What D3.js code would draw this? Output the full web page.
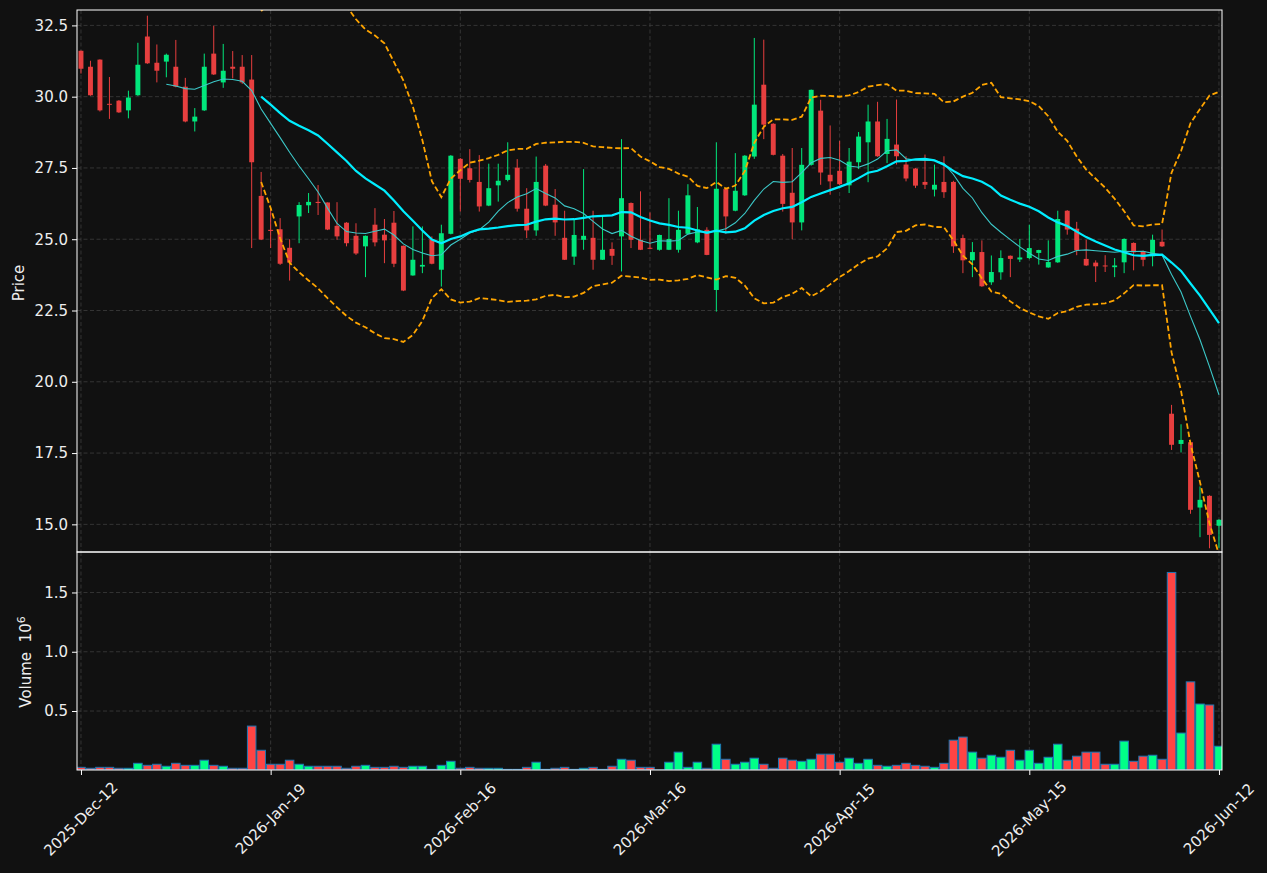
<!DOCTYPE html>
<html lang="en">
<head>
<meta charset="UTF-8">
<title>Candlestick with Volume</title>
<script src="https://d3js.org/d3.v7.min.js"></script>
<style>
  html, body { margin: 0; padding: 0; background: #111111; }
  svg { display: block; }
  text { font-family: "DejaVu Sans", sans-serif; fill: #eeeeee; }
</style>
</head>
<body>
<svg id="chart" width="1267" height="873"></svg>
<script>
// ---- data (prices, volume in millions) ----
const opens = [31.61,31.05,31.30,29.75,29.86,29.52,30.05,32.11,31.19,31.23,
  31.05,30.35,29.13,29.52,31.51,30.50,31.05,31.05,30.60,26.52,
  25.33,25.35,24.70,25.80,26.19,26.31,26.29,25.47,25.58,25.12,
  24.75,25.51,25.16,25.58,24.77,23.73,24.04,25.00,23.93,25.19,
  27.82,27.49,27.01,26.18,26.89,27.08,27.51,26.07,25.31,27.58,
  26.21,25.05,24.39,24.98,25.05,24.28,24.66,25.10,26.27,24.98,
  24.70,24.63,24.63,24.63,25.19,24.89,25.33,23.22,26.76,26.00,
  26.54,27.90,30.42,29.05,27.93,26.63,25.59,27.61,29.51,27.26,
  27.40,26.89,27.70,28.40,29.13,27.99,28.32,27.62,27.48,27.01,
  26.74,27.01,27.01,25.04,24.26,24.55,23.49,23.84,24.42,24.29,
  24.34,24.52,24.01,24.19,26.00,25.37,24.31,24.18,24.08,24.02,
  24.19,24.87,24.58,24.40,24.91,18.88,17.82,17.88,15.59,16.00,
  14.95];
const highs = [31.62,31.26,31.31,30.69,29.88,30.21,31.89,32.84,31.83,31.51,
  31.99,30.66,29.60,31.51,32.49,31.85,31.60,31.46,31.46,27.36,
  26.09,25.74,25.00,26.30,26.62,26.90,26.29,26.30,25.60,25.56,
  25.13,26.09,25.71,25.99,24.78,25.45,25.45,25.10,25.51,27.95,
  27.85,28.16,27.95,27.65,27.65,28.40,27.81,26.79,27.90,27.64,
  26.76,26.00,25.70,27.46,26.00,25.80,24.89,28.51,26.29,26.68,
  25.94,25.16,26.44,26.00,26.93,26.13,25.42,28.40,26.78,28.02,
  27.95,32.06,32.00,29.07,27.99,28.20,28.20,30.25,29.89,28.99,
  28.45,28.20,28.76,29.72,29.82,29.22,29.90,27.91,27.50,27.97,
  27.62,27.91,27.05,25.16,24.90,24.96,24.43,24.61,24.43,25.01,
  25.51,24.63,24.96,26.00,26.02,25.61,24.98,24.26,24.44,24.34,
  25.03,24.89,24.60,25.16,25.34,19.19,18.51,17.90,16.33,16.02,
  15.18];
const lows = [30.81,30.03,29.48,29.22,29.43,29.24,30.03,31.15,30.50,30.68,
  30.33,29.10,28.78,29.50,30.76,30.31,30.64,30.45,24.69,24.97,
  24.69,24.10,23.55,24.86,25.92,25.85,25.32,24.98,24.75,24.45,
  23.67,24.75,24.16,24.02,23.18,23.72,23.81,24.12,23.34,25.17,
  25.97,26.99,25.97,26.16,26.32,27.03,25.97,25.04,25.12,26.16,
  25.12,24.27,24.10,24.63,23.93,24.27,24.10,23.87,24.69,24.62,
  24.65,24.60,24.62,24.53,25.18,24.86,24.44,22.46,25.19,25.98,
  26.52,27.82,28.51,27.94,25.97,25.00,25.31,27.58,26.91,26.56,
  26.90,26.62,27.46,27.00,27.89,27.67,27.62,27.03,26.80,26.76,
  26.50,26.45,24.52,23.81,23.67,23.33,23.40,23.58,23.67,24.20,
  24.30,24.11,24.00,24.17,25.16,24.44,24.06,23.50,23.85,23.67,
  23.81,23.91,24.05,24.05,24.73,17.61,17.52,15.37,14.55,14.16,
  14.16];
const closes = [30.98,30.05,29.52,29.73,29.45,29.97,31.12,31.17,30.91,31.47,
  30.35,29.13,29.30,31.05,30.78,30.91,30.98,30.50,27.70,24.99,
  25.29,24.14,24.18,26.20,26.31,26.27,25.34,25.10,24.86,24.50,
  25.12,24.89,24.96,24.14,23.20,24.28,24.10,24.14,25.21,27.93,
  27.12,27.08,26.15,26.79,27.05,27.26,26.07,25.31,27.01,26.18,
  25.59,24.28,25.15,25.12,24.28,24.63,24.42,26.44,24.98,24.63,
  24.67,25.15,25.01,25.33,26.54,25.35,24.45,26.77,25.80,26.70,
  27.93,29.72,29.02,27.96,26.24,25.59,27.61,30.24,27.34,27.03,
  26.93,27.72,28.60,29.13,27.91,28.52,27.91,27.13,26.88,26.91,
  26.91,26.65,24.75,24.26,24.55,23.35,23.85,24.34,24.31,24.36,
  24.69,24.62,24.20,25.71,25.34,24.61,24.08,24.05,24.06,24.08,
  25.01,24.54,24.28,24.98,24.75,17.79,17.96,15.51,15.86,14.63,
  15.16];
const volumes = [0.025,0.017,0.025,0.025,0.017,0.017,0.059,0.042,0.051,0.034,
  0.059,0.042,0.042,0.085,0.042,0.034,0.017,0.017,0.373,0.169,
  0.051,0.051,0.085,0.051,0.034,0.034,0.034,0.034,0.017,0.034,
  0.042,0.025,0.025,0.034,0.025,0.034,0.034,0.008,0.042,0.076,
  0.017,0.025,0.017,0.017,0.017,0.008,0.008,0.025,0.068,0.008,
  0.017,0.025,0.008,0.017,0.025,0.008,0.034,0.093,0.085,0.025,
  0.025,0.003,0.068,0.153,0.025,0.068,0.017,0.220,0.093,0.051,
  0.068,0.102,0.051,0.017,0.102,0.085,0.076,0.093,0.136,0.136,
  0.068,0.102,0.059,0.093,0.042,0.034,0.042,0.059,0.042,0.034,
  0.025,0.059,0.254,0.280,0.153,0.102,0.127,0.110,0.169,0.085,
  0.169,0.059,0.110,0.220,0.085,0.119,0.153,0.153,0.051,0.051,
  0.246,0.076,0.119,0.127,0.093,1.669,0.314,0.746,0.559,0.551,
  0.203];
const tickIndex = [0, 20, 40, 60, 80, 100, 120];
const tickLabels = ["2025-Dec-12", "2026-Jan-19", "2026-Feb-16", "2026-Mar-16",
  "2026-Apr-15", "2026-May-15", "2026-Jun-12"];
const priceTicks = [15.0, 17.5, 20.0, 22.5, 25.0, 27.5, 30.0, 32.5];
const volumeTicks = [0.5, 1.0, 1.5];

// ---- derived series: moving averages and bollinger bands ----
function rollingMean(arr, n) {
  return arr.map((_, i) => i < n - 1 ? null : d3.mean(arr.slice(i - n + 1, i + 1)));
}
function rollingStd(arr, n) {
  return arr.map((_, i) => i < n - 1 ? null : d3.deviation(arr.slice(i - n + 1, i + 1)));
}
const ma10 = rollingMean(closes, 10);
const ma20 = rollingMean(closes, 20);
const sd20 = rollingStd(closes, 20);
const bbUpper = ma20.map((m, i) => m === null ? null : m + 2 * sd20[i]);
const bbLower = ma20.map((m, i) => m === null ? null : m - 2 * sd20[i]);

// ---- layout ----
const left = 77, right = 1222;
const pTop = 10, pBottom = 552;
const vTop = 552, vBottom = 770;

const UP = "#00ff88", DOWN = "#ff4444";

const svg = d3.select("#chart");
svg.append("rect").attr("width", 1267).attr("height", 873).attr("fill", "#111111");

const x = d3.scaleLinear().domain([-0.42, 120.32]).range([left, right]);
const step = x(1) - x(0);
const yP = d3.scaleLinear().domain([14.03, 33.04]).range([pBottom, pTop]);
const yV = d3.scaleLinear().domain([0.0025, 1.8415]).range([vBottom, vTop]);

const defs = svg.append("defs");
defs.append("clipPath").attr("id", "clipP")
  .append("rect").attr("x", left).attr("y", pTop).attr("width", right - left).attr("height", pBottom - pTop);
defs.append("clipPath").attr("id", "clipV")
  .append("rect").attr("x", left).attr("y", vTop).attr("width", right - left).attr("height", vBottom - vTop);

// grid
const grid = svg.append("g").attr("stroke", "#3d3d3d").attr("stroke-width", 0.8).attr("stroke-dasharray", "4,2.5");
priceTicks.forEach(t => grid.append("line").attr("x1", left).attr("x2", right).attr("y1", yP(t)).attr("y2", yP(t)));
volumeTicks.forEach(t => grid.append("line").attr("x1", left).attr("x2", right).attr("y1", yV(t)).attr("y2", yV(t)));
tickIndex.forEach(t => {
  grid.append("line").attr("x1", x(t)).attr("x2", x(t)).attr("y1", pTop).attr("y2", pBottom);
  grid.append("line").attr("x1", x(t)).attr("x2", x(t)).attr("y1", vTop).attr("y2", vBottom);
});

// candles
const idx = d3.range(closes.length);
const candles = svg.append("g").attr("clip-path", "url(#clipP)").attr("opacity", 0.9);
const cg = candles.selectAll("g").data(idx).join("g")
  .attr("fill", i => closes[i] >= opens[i] ? UP : DOWN)
  .attr("stroke", i => closes[i] >= opens[i] ? UP : DOWN);
cg.append("line")
  .attr("x1", i => x(i)).attr("x2", i => x(i))
  .attr("y1", i => yP(highs[i])).attr("y2", i => yP(lows[i]))
  .attr("stroke-width", 1);
cg.append("rect")
  .attr("stroke", "none")
  .attr("x", i => x(i) - step * 0.26)
  .attr("width", step * 0.52)
  .attr("y", i => yP(Math.max(opens[i], closes[i])))
  .attr("height", i => Math.max(1, Math.abs(yP(opens[i]) - yP(closes[i]))));

// lines
const lineGen = d3.line().defined(d => d !== null).x((d, i) => x(i)).y(d => yP(d));
const lines = svg.append("g").attr("clip-path", "url(#clipP)").attr("fill", "none");
lines.append("path").datum(bbUpper).attr("d", lineGen)
  .attr("stroke", "#ffa500").attr("stroke-width", 1.8).attr("stroke-dasharray", "5.5,2.8");
lines.append("path").datum(bbLower).attr("d", lineGen)
  .attr("stroke", "#ffa500").attr("stroke-width", 1.8).attr("stroke-dasharray", "5.5,2.8");
lines.append("path").datum(ma10).attr("d", lineGen)
  .attr("stroke", "#3cc8c8").attr("stroke-width", 1.1);
lines.append("path").datum(ma20).attr("d", lineGen)
  .attr("stroke", "#00eeff").attr("stroke-width", 2.2);

// volume bars
svg.append("g").attr("clip-path", "url(#clipV)")
  .selectAll("rect").data(idx).join("rect")
  .attr("x", i => x(i) - step * 0.45)
  .attr("width", step * 0.9)
  .attr("y", i => yV(volumes[i]))
  .attr("height", i => Math.max(0, vBottom - yV(volumes[i])))
  .attr("fill", i => closes[i] >= opens[i] ? UP : DOWN)
  .attr("stroke", "#1f77b4").attr("stroke-width", 1);

// frames
[[pTop, pBottom], [vTop, vBottom]].forEach(([t, b]) => {
  svg.append("rect").attr("x", left).attr("y", t).attr("width", right - left).attr("height", b - t)
    .attr("fill", "none").attr("stroke", "#ffffff").attr("stroke-width", 1);
});

// axes
const axP = svg.append("g").attr("transform", `translate(${left},0)`)
  .call(d3.axisLeft(yP).tickValues(priceTicks).tickFormat(d3.format(".1f")).tickSize(5).tickPadding(4));
const axV = svg.append("g").attr("transform", `translate(${left},0)`)
  .call(d3.axisLeft(yV).tickValues(volumeTicks).tickFormat(d3.format(".1f")).tickSize(5).tickPadding(4));
const axX = svg.append("g").attr("transform", `translate(0,${vBottom})`)
  .call(d3.axisBottom(x).tickValues(tickIndex).tickFormat("").tickSize(5));
[axP, axV, axX].forEach(a => {
  a.select(".domain").remove();
  a.selectAll(".tick line").attr("stroke", "#ffffff");
  a.selectAll("text").attr("fill", "#eeeeee").style("font-size", "15px").style("font-family", "DejaVu Sans");
});

svg.append("g").selectAll("text").data(tickIndex).join("text")
  .attr("transform", t => `translate(${x(t)},819) rotate(-45)`)
  .attr("text-anchor", "middle").attr("dominant-baseline", "central")
  .style("font-size", "15px")
  .text((t, i) => tickLabels[i]);

svg.append("text").attr("transform", "translate(24,283) rotate(-90)")
  .attr("text-anchor", "middle").style("font-size", "15px").text("Price");

const vl = svg.append("text").attr("transform", "translate(31,662) rotate(-90)")
  .attr("text-anchor", "middle").style("font-size", "15px").style("white-space", "pre")
  .attr("xml:space", "preserve");
vl.append("tspan").text("Volume  10");
vl.append("tspan").attr("dy", -6).style("font-size", "11px").text("6");
</script>
</body>
</html>
